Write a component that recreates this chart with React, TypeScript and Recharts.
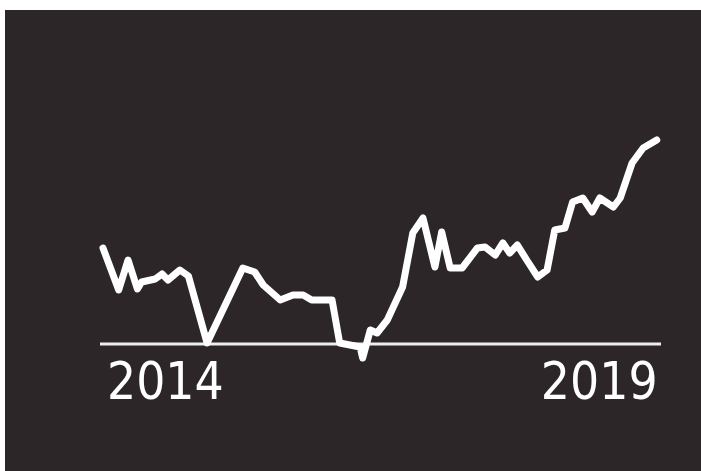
import { LineChart, Line, XAxis, YAxis, ReferenceLine } from 'recharts';

// month index (from start of 2014) and index level
const months = [
  0.35, 2.2, 3.3, 4.4, 4.9, 6.5, 7.3, 8.0, 9.4, 10.4, 12.6, 16.8, 18.2, 19.2, 21.2, 22.7, 23.9, 24.9,
  27.3, 28.2, 30.6, 30.9, 31.8, 32.6, 33.8, 35.6, 36.8, 38.0, 39.4, 40.2, 41.2, 42.6, 44.4, 45.3, 46.5,
  47.4, 48.2, 49.1, 50.2, 51.5, 52.6, 53.5, 54.7, 55.6, 56.8, 57.9, 58.8, 60.4, 61.2, 62.6, 63.9, 65.5,
];
const values = [
  48, 27, 42, 27.5, 31, 32.5, 35, 32, 37, 34, 0.5, 38, 36, 29.5, 22, 24.5, 24.5, 22, 22, 0.5, -1.5, -7,
  7, 5.5, 12, 28.5, 55.5, 63, 38.5, 56, 38, 38, 48, 48.5, 44.5, 50.5, 45.5, 49.5, 42, 33.5, 37, 57, 58,
  71, 73, 66, 73, 68.5, 73, 90.5, 98, 102,
];
const yearTicks = [0.82, 65.6];
const yearLabels = ['2014', '2019'];

const data = months.map((m, i) => ({ m, v: values[i] }));

function YearTick(props: any) {
  const { x, y, index } = props;
  return (
    <text
      x={x}
      y={y}
      dy={21}
      textAnchor={index === 0 ? 'start' : 'end'}
      fill="#ffffff"
      fontSize={51}
      fontFamily="'DejaVu Sans Condensed', 'DejaVu Sans'"
      fontStretch="condensed"
    >
      {yearLabels[index]}
    </text>
  );
}

export default function App() {
  return (
    <div style={{ position: 'absolute', left: 0, top: 0, width: 701, height: 471, background: '#ffffff' }}>
      <div style={{ position: 'absolute', left: 5, top: 10, width: 696, height: 461, background: '#2c2629' }}>
        <LineChart width={696} height={461} data={data} margin={{ top: 120, right: 40, bottom: 61, left: 95 }}>
          <XAxis
            dataKey="m"
            type="number"
            domain={[0, 66]}
            ticks={yearTicks}
            axisLine={false}
            tickLine={false}
            height={40}
            tick={<YearTick />}
            interval={0}
          />
          <YAxis hide domain={[-13, 107]} allowDataOverflow />
          <ReferenceLine y={0} stroke="#eeeeee" strokeWidth={3} />
          <Line
            dataKey="v"
            type="linear"
            stroke="#ffffff"
            strokeWidth={7}
            strokeLinejoin="round"
            strokeLinecap="round"
            dot={false}
            isAnimationActive={false}
          />
        </LineChart>
      </div>
    </div>
  );
}
